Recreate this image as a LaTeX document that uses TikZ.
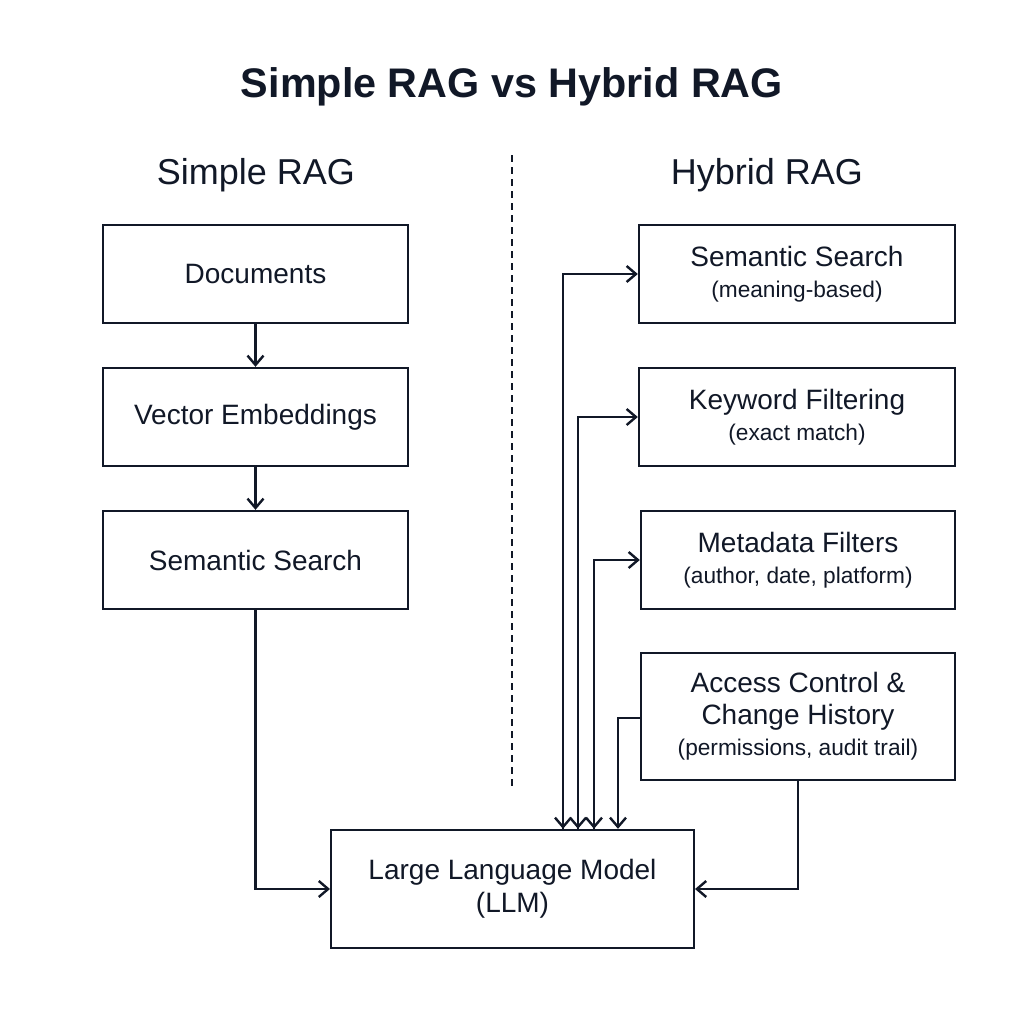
\documentclass[tikz,border=0pt]{standalone}
\usepackage{fontspec}
\setmainfont{Liberation Sans}
\usetikzlibrary{arrows.meta}
\definecolor{ink}{HTML}{111827}
\newcommand{\subline}[1]{{\fontsize{17}{20}\selectfont #1}}
\tikzstyle{box}=[draw=ink, line width=1.8pt, text=ink, align=center, inner sep=0,
                 font=\fontsize{21}{25}\selectfont]
\tikzstyle{flow}=[draw=ink, line width=1.8pt, -{Straight Barb[length=7pt,width=12pt]}]
\begin{document}
\begin{tikzpicture}[x=0.75pt, y=-0.75pt]
        \useasboundingbox[fill=white] (0,0) rectangle (1024,1024);
        \node[text=ink, font=\fontsize{31}{37}\selectfont\bfseries] (title) at (512,87) {Simple RAG vs Hybrid RAG};
        \node[text=ink, font=\fontsize{27}{32}\selectfont] (lhead) at (256,175) {Simple RAG};
        \node[text=ink, font=\fontsize{27}{32}\selectfont] (rhead) at (767,175) {Hybrid RAG};
        \draw[ink, line width=1.6pt, dash pattern=on 5pt off 4pt] (512,155) -- (512,790);
        % simple side
        \node[box, minimum width=229pt, minimum height=73.5pt] (docs) at (255.5,274) {Documents};
        \node[box, minimum width=229pt, minimum height=73.5pt] (vec) at (255.5,417) {Vector Embeddings};
        \node[box, minimum width=229pt, minimum height=73.5pt] (sems) at (255.5,560) {Semantic Search};
        % hybrid side
        \node[box, minimum width=237pt, minimum height=73.5pt] (semh) at (797,274) {Semantic Search\\[-2pt]\subline{(meaning-based)}};
        \node[box, minimum width=237pt, minimum height=73.5pt] (key) at (797,417) {Keyword Filtering\\[-2pt]\subline{(exact match)}};
        \node[box, minimum width=235.5pt, minimum height=73.5pt] (meta) at (798,560) {Metadata Filters\\[-2pt]\subline{(author, date, platform)}};
        \node[box, minimum width=235.5pt, minimum height=95pt] (acc) at (798,716.5) {Access Control \&\\[-1pt]Change History\\[-2pt]\subline{(permissions, audit trail)}};
        \node[box, minimum width=272pt, minimum height=88.5pt] (llm) at (512.5,889) {Large Language Model\\(LLM)};
        % connectors
        \draw[flow] (docs) -- (vec);
        \draw[flow] (vec) -- (sems);
        \draw[flow] (sems.south) |- (llm.west);
        \draw[flow] (acc.south) |- (llm.east);
        \draw[flow] (llm.north -| 563,0) -- (563,274) -- (semh.west);
        \draw[flow] (llm.north -| 578,0) -- (578,417) -- (key.west);
        \draw[flow] (llm.north -| 594,0) -- (594,560) -- (meta.west);
        \draw[flow] (563,274) -- (llm.north -| 563,0);
        \draw[flow] (578,417) -- (llm.north -| 578,0);
        \draw[flow] (594,560) -- (llm.north -| 594,0);
        \draw[flow] (acc.west |- 0,718) -- (618,718) -- (llm.north -| 618,0);
    \end{tikzpicture}
\end{document}
